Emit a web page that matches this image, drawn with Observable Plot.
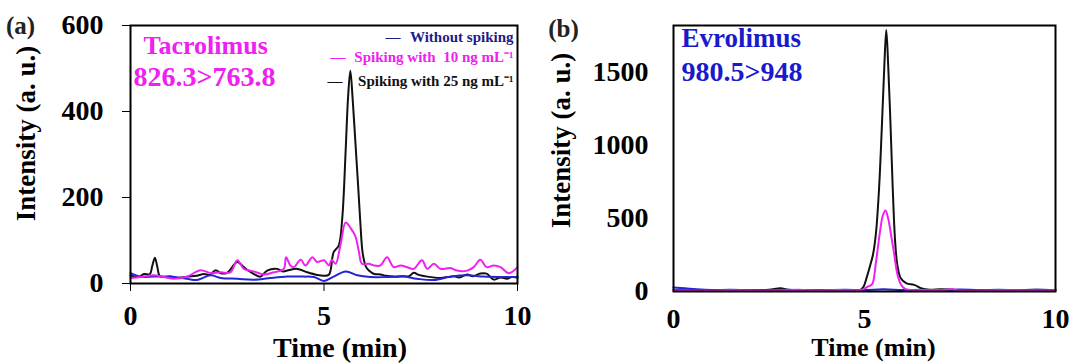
<!DOCTYPE html>
<html><head><meta charset="utf-8">
<script src="https://cdn.jsdelivr.net/npm/d3@7"></script>
<script src="https://cdn.jsdelivr.net/npm/@observablehq/plot@0.6"></script>
<style>
html,body{margin:0;padding:0;background:#fff;}
#wrap{position:relative;width:1069px;height:363px;overflow:hidden;background:#fff;}
#pa,#pb{position:absolute;top:0;}
#pa{left:0}#pb{left:530px}
</style></head><body><div id="wrap"><div id="pa"></div><div id="pb"></div></div>
<script>
// ---- Panel (a): Tacrolimus 826.3>763.8, [time (min), intensity] ----
const tacBlank = [[0,24],[0.26,16],[0.6,16],[1.03,16],[1.46,11],[1.72,8],[2.07,19],[2.33,13],[2.76,11],[3.19,9],[3.62,13],[4.05,16],[4.48,16],[4.74,15],[5.0,6],[5.25,16],[5.56,28],[5.86,19],[6.2,15],[6.63,15],[7.06,16],[7.4,11],[7.84,8],[8.27,16],[8.7,19],[9.12,16],[9.56,15],[10,15]];
const tacSpike10 = [[0,13],[0.26,15],[0.6,19],[0.86,15],[1.12,11],[1.46,16],[1.81,31],[2.07,24],[2.33,26],[2.58,26],[2.76,54],[2.93,34],[3.19,28],[3.45,21],[3.7,26],[3.96,34],[4.02,61],[4.13,42],[4.22,38],[4.4,55],[4.52,42],[4.7,61],[4.82,50],[5.0,54],[5.13,42],[5.2,55],[5.3,46],[5.43,92],[5.56,142],[5.68,130],[5.81,110],[5.9,75],[5.98,46],[6.16,46],[6.29,42],[6.46,42],[6.63,61],[6.8,38],[6.98,42],[7.15,38],[7.32,34],[7.53,54],[7.67,34],[7.84,46],[8.01,34],[8.27,36],[8.44,30],[8.7,30],[8.87,38],[9.04,55],[9.2,38],[9.39,42],[9.56,38],[9.78,24],[10,38]];
const tacSpike25 = [[0,19],[0.2,15],[0.35,22],[0.5,22],[0.56,40],[0.63,60],[0.69,40],[0.76,17],[0.9,15],[1.03,16],[1.2,13],[1.46,16],[1.7,18],[1.9,22],[2.05,20],[2.2,31],[2.33,24],[2.5,25],[2.76,50],[2.93,38],[3.05,30],[3.19,22],[3.36,16],[3.53,30],[3.79,34],[3.95,28],[4.05,30],[4.31,34],[4.57,26],[4.82,20],[5.0,18],[5.13,21],[5.25,73],[5.38,88],[5.47,150],[5.56,310],[5.62,430],[5.68,495],[5.74,430],[5.81,330],[5.88,230],[5.94,140],[6.0,70],[6.08,40],[6.16,30],[6.3,22],[6.46,21],[6.6,18],[6.8,16],[7.0,17],[7.2,17],[7.32,25],[7.45,20],[7.67,16],[8.01,13],[8.2,15],[8.36,17],[8.5,14],[8.7,21],[8.85,17],[9.04,23],[9.2,23],[9.3,15],[9.39,9],[9.56,14],[9.73,11],[9.85,15],[10,14]];
const tacTicksY = [0,200,400,600];

// ---- Panel (b): Evrolimus 980.5>948 ----
const evrBlank = [[0,28],[0.3,22],[0.6,15],[1,10],[1.5,12],[2,8],[2.5,10],[3,12],[3.5,8],[4,10],[4.5,12],[5,10],[5.5,15],[6,10],[6.5,12],[7,10],[7.5,14],[8,10],[8.5,12],[9,10],[9.5,12],[10,10]];
const evrSpike10 = [[0,8],[0.5,5],[1,5],[1.5,8],[2,6],[2.5,5],[3,8],[3.3,12],[3.6,5],[4,8],[4.3,10],[4.6,8],[4.9,10],[5.0,20],[5.1,35],[5.2,50],[5.3,200],[5.4,400],[5.48,520],[5.55,555],[5.62,500],[5.7,380],[5.78,250],[5.86,120],[5.95,50],[6.05,20],[6.2,10],[6.5,10],[7,8],[7.3,15],[7.4,8],[8,6],[8.5,8],[9,8],[9.5,6],[10,8]];
const evrSpike25 = [[0,10],[0.5,8],[1,5],[1.5,8],[2,8],[2.5,12],[2.8,22],[3.0,12],[3.5,5],[4,8],[4.5,5],[4.85,6],[4.97,30],[5.05,90],[5.15,180],[5.22,250],[5.3,400],[5.38,700],[5.45,1100],[5.52,1550],[5.57,1790],[5.62,1550],[5.68,1150],[5.74,700],[5.8,350],[5.86,180],[5.95,90],[6.1,55],[6.3,45],[6.5,20],[6.7,12],[7,15],[7.3,12],[7.5,8],[8,10],[8.5,8],[9,10],[9.5,12],[10,10]];
const evrTicksY = [0,500,1000,1500];

const timeTicks = [0,5,10];
const legendLabels = ["Without spiking", "Spiking with  10 ng mL\u207B\u00B9", "Spiking with 25 ng mL\u207B\u00B9"];

const BLUE = "#2323d8", MAG = "#f020f0", BLACK = "#111";
const FONT = "'Liberation Serif','Times New Roman',serif";
const baseStyle = {fontFamily: FONT, fontWeight: "bold", background: "transparent", overflow: "visible", color: "black"};
const rows = (arr) => arr.map(([t, v]) => ({t, v}));
const lineOpts = (c) => ({x: "t", y: "v", stroke: c, strokeWidth: 2, curve: "catmull-rom"});
const note = (txt, o) => Plot.text([0], {text: () => txt, fontWeight: "bold", ...o});
const leg = (txt, dx, dy, fill) => note(txt, {frameAnchor: "top-right", dx, dy, fontSize: 15, textAnchor: "end", lineAnchor: "middle", fill});

const A = Plot.plot({
  width: 530, height: 363,
  marginLeft: 130, marginRight: 13, marginTop: 25, marginBottom: 80,
  style: baseStyle,
  x: {domain: [0, 10]},
  y: {domain: [0, 600]},
  marks: [
    Plot.line(rows(tacSpike25), lineOpts(BLACK)),
    Plot.line(rows(tacBlank), lineOpts(BLUE)),
    Plot.line(rows(tacSpike10), lineOpts(MAG)),
    Plot.frame({stroke: "black", strokeWidth: 2}),
    Plot.axisY({ticks: tacTicksY, tickSize: 8, tickPadding: 19, fontSize: 28, label: null, tickFormat: "d"}),
    Plot.axisX({ticks: timeTicks, tickSize: 8, tickPadding: 14, fontSize: 28, label: null, tickFormat: "d"}),
    note("(a)", {frameAnchor: "top-left", dx: -110, dy: 0, fontSize: 25, textAnchor: "middle", lineAnchor: "middle", fill: "#222"}),
    note("Intensity (a. u.)", {frameAnchor: "left", dx: -104, dy: -21, rotate: -90, fontSize: 27, textAnchor: "middle", lineAnchor: "middle"}),
    note("Time (min)", {frameAnchor: "bottom", dx: 16, dy: 65, fontSize: 28, textAnchor: "middle", lineAnchor: "middle"}),
    note("Tacrolimus", {frameAnchor: "top-left", dx: 13, dy: 20, fontSize: 26, textAnchor: "start", lineAnchor: "middle", fill: MAG}),
    note("826.3>763.8", {frameAnchor: "top-left", dx: 3, dy: 52, fontSize: 28, textAnchor: "start", lineAnchor: "middle", fill: MAG}),
    leg("\u2014", -117, 12, "#1c1c8c"),
    leg(legendLabels[0], -4, 12, "#1c1c8c"),
    leg("\u2014", -172, 32, MAG),
    leg(legendLabels[1], -4, 32, MAG),
    leg("\u2014", -175, 56, BLACK),
    leg(legendLabels[2], -4, 56, BLACK)
  ]
});

const B = Plot.plot({
  width: 539, height: 363,
  marginLeft: 143, marginRight: 14, marginTop: 25, marginBottom: 72,
  style: baseStyle,
  x: {domain: [0, 10]},
  y: {domain: [0, 1820]},
  marks: [
    Plot.line(rows(evrSpike25), lineOpts(BLACK)),
    Plot.line(rows(evrBlank), lineOpts(BLUE)),
    Plot.line(rows(evrSpike10), lineOpts(MAG)),
    Plot.frame({stroke: "black", strokeWidth: 2}),
    Plot.axisY({ticks: evrTicksY, tickSize: 0, tickPadding: 25, fontSize: 28, label: null, tickFormat: "d"}),
    Plot.axisX({ticks: timeTicks, tickSize: 0, tickPadding: 17, fontSize: 28, label: null, tickFormat: "d"}),
    note("(b)", {frameAnchor: "top-left", dx: -110, dy: 3, fontSize: 25, textAnchor: "middle", lineAnchor: "middle", fill: "#222"}),
    note("Intensity (a. u.)", {frameAnchor: "left", dx: -112, dy: -18, rotate: -90, fontSize: 27, textAnchor: "middle", lineAnchor: "middle"}),
    note("Time (min)", {frameAnchor: "bottom", dx: 9, dy: 56, fontSize: 26, textAnchor: "middle", lineAnchor: "middle"}),
    note("Evrolimus", {frameAnchor: "top-left", dx: 8, dy: 13, fontSize: 27, textAnchor: "start", lineAnchor: "middle", fill: "#1a1acc"}),
    note("980.5>948", {frameAnchor: "top-left", dx: 8, dy: 47, fontSize: 28, textAnchor: "start", lineAnchor: "middle", fill: "#1a1acc"})
  ]
});

document.getElementById("pa").appendChild(A);
document.getElementById("pb").appendChild(B);
</script></body></html>
